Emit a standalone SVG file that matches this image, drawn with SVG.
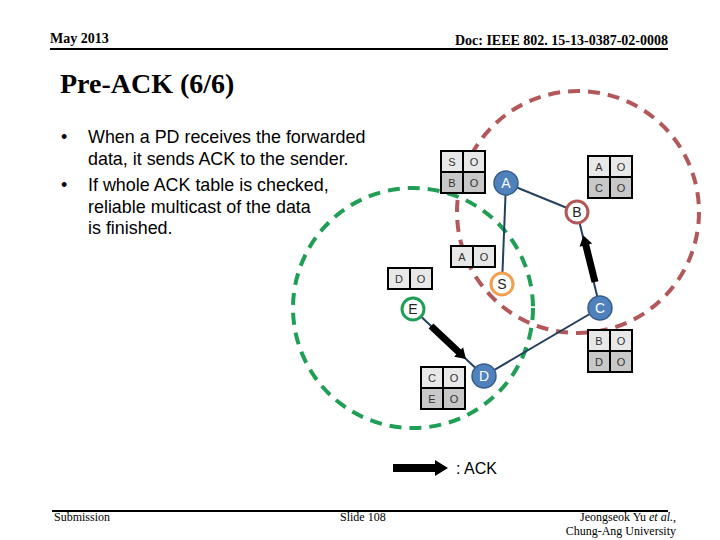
<svg xmlns="http://www.w3.org/2000/svg" width="720" height="540" viewBox="0 0 720 540">
<style>
.hdr{font-family:"Liberation Serif","Times New Roman",serif;font-weight:bold;font-size:14px;fill:#000}
.ftr{font-family:"Liberation Serif","Times New Roman",serif;font-size:12px;fill:#000}
.title{font-family:"Liberation Serif","Times New Roman",serif;font-weight:bold;font-size:28px;fill:#000}
.body{font-family:"Liberation Sans",Arial,sans-serif;font-size:17.9px;fill:#000}
.cell{font-family:"Liberation Sans",Arial,sans-serif;font-size:11px;fill:#333;text-anchor:middle}
.r1{fill:#e8e8e8;stroke:#000;stroke-width:2}
.r2{fill:#c8c8c8;stroke:#000;stroke-width:2}
.nlab{font-family:"Liberation Sans",Arial,sans-serif;font-size:14px;text-anchor:middle}
.edge{stroke:#243f60;stroke-width:2;fill:none}
.ack{fill:#000}
</style>
<defs>
<g id="ackArrow"><polygon points="0,-3.5 38,-3.5 38,-6.5 48,0 38,6.5 38,3.5 0,3.5"/></g>
</defs>
<!-- header -->
<text class="hdr" x="50" y="43">May 2013</text>
<text class="hdr" x="668" y="45" text-anchor="end">Doc: IEEE 802. 15-13-0387-02-0008</text>
<line x1="50" y1="49" x2="668" y2="49" stroke="#000" stroke-width="2"/>
<text class="title" x="60" y="93">Pre-ACK (6/6)</text>
<!-- body -->
<g class="body">
<text x="61" y="143">•</text>
<text x="88" y="143">When a PD receives the forwarded</text>
<text x="88" y="165">data, it sends ACK to the sender.</text>
<text x="61" y="191">•</text>
<text x="88" y="191">If whole ACK table is checked,</text>
<text x="88" y="213">reliable multicast of the data</text>
<text x="88" y="234">is finished.</text>
</g>
<!-- range circles -->
<circle cx="578" cy="212" r="121" fill="none" stroke="#b3585a" stroke-width="4" stroke-dasharray="12,8"/>
<circle cx="413" cy="308" r="120" fill="none" stroke="#1f9e55" stroke-width="4" stroke-dasharray="12,8"/>
<!-- connectors -->
<g id="connectors">
<line class="edge" x1="506" y1="183" x2="577" y2="212"/>
<line class="edge" x1="506" y1="183" x2="502" y2="284"/>
<line class="edge" x1="577" y1="212" x2="600" y2="308"/>
<line class="edge" x1="413" y1="309" x2="484" y2="376"/>
<line class="edge" x1="484" y1="376" x2="600" y2="308"/>
<use href="#ackArrow" class="ack" transform="translate(595,282) rotate(-104)"/>
<use href="#ackArrow" class="ack" transform="translate(431,326) rotate(43.3)"/>
</g>
<!-- tables -->
<g id="table-A">
<rect class="r1" x="441" y="151" width="22" height="21"/><rect class="r1" x="463" y="151" width="22" height="21"/>
<rect class="r2" x="441" y="172" width="22" height="21"/><rect class="r2" x="463" y="172" width="22" height="21"/>
<text class="cell" x="452" y="166">S</text><text class="cell" x="474" y="166">O</text>
<text class="cell" x="452" y="187">B</text><text class="cell" x="474" y="187">O</text>
</g>
<g id="table-B">
<rect class="r1" x="588" y="156" width="22" height="21"/><rect class="r1" x="610" y="156" width="22" height="21"/>
<rect class="r2" x="588" y="177" width="22" height="21"/><rect class="r2" x="610" y="177" width="22" height="21"/>
<text class="cell" x="599" y="171">A</text><text class="cell" x="621" y="171">O</text>
<text class="cell" x="599" y="192">C</text><text class="cell" x="621" y="192">O</text>
</g>
<g id="table-S">
<rect class="r1" x="451" y="246" width="22" height="21"/><rect class="r1" x="473" y="246" width="22" height="21"/>
<text class="cell" x="462" y="261">A</text><text class="cell" x="484" y="261">O</text>
</g>
<g id="table-E">
<rect class="r1" x="388" y="268" width="22" height="21"/><rect class="r1" x="410" y="268" width="22" height="21"/>
<text class="cell" x="399" y="283">D</text><text class="cell" x="421" y="283">O</text>
</g>
<g id="table-C">
<rect class="r1" x="588" y="330" width="22" height="21"/><rect class="r1" x="610" y="330" width="22" height="21"/>
<rect class="r2" x="588" y="351" width="22" height="21"/><rect class="r2" x="610" y="351" width="22" height="21"/>
<text class="cell" x="599" y="345">B</text><text class="cell" x="621" y="345">O</text>
<text class="cell" x="599" y="366">D</text><text class="cell" x="621" y="366">O</text>
</g>
<g id="table-D">
<rect class="r1" x="421" y="367" width="22" height="21"/><rect class="r1" x="443" y="367" width="22" height="21"/>
<rect class="r2" x="421" y="388" width="22" height="21"/><rect class="r2" x="443" y="388" width="22" height="21"/>
<text class="cell" x="432" y="382">C</text><text class="cell" x="454" y="382">O</text>
<text class="cell" x="432" y="403">E</text><text class="cell" x="454" y="403">O</text>
</g>
<!-- nodes -->
<g id="node-A"><circle cx="506" cy="183" r="12" fill="#4f81bd" stroke="#385d8a" stroke-width="1.5"/><text class="nlab" x="506" y="188" fill="#fff">A</text></g>
<g id="node-B"><circle cx="577" cy="212" r="11" fill="#fff" stroke="#b3585a" stroke-width="3"/><text class="nlab" x="577" y="217" fill="#222">B</text></g>
<g id="node-S"><circle cx="502" cy="284" r="11" fill="#fff" stroke="#f0a050" stroke-width="3"/><text class="nlab" x="502" y="289" fill="#222">S</text></g>
<g id="node-C"><circle cx="600" cy="308" r="12" fill="#4f81bd" stroke="#385d8a" stroke-width="1.5"/><text class="nlab" x="600" y="313" fill="#fff">C</text></g>
<g id="node-E"><circle cx="413" cy="309" r="11" fill="#fff" stroke="#1f9e55" stroke-width="3"/><text class="nlab" x="413" y="314" fill="#222">E</text></g>
<g id="node-D"><circle cx="484" cy="376" r="12" fill="#4f81bd" stroke="#385d8a" stroke-width="1.5"/><text class="nlab" x="484" y="381" fill="#fff">D</text></g>
<!-- legend -->
<g id="legend">
<polygon points="393,464 435,464 435,460 448,468 435,476 435,472 393,472" fill="#000"/>
<text x="456" y="474" font-family="'Liberation Sans',Arial,sans-serif" font-size="16" fill="#000">: ACK</text>
</g>
<!-- footer -->
<line x1="52" y1="511" x2="668" y2="511" stroke="#000" stroke-width="2"/>
<text class="ftr" x="54" y="521">Submission</text>
<text class="ftr" x="340" y="521">Slide 108</text>
<text class="ftr" x="676" y="521" text-anchor="end">Jeongseok Yu <tspan font-style="italic">et al.</tspan>,</text>
<text class="ftr" x="676" y="535" text-anchor="end">Chung-Ang University</text>
</svg>
